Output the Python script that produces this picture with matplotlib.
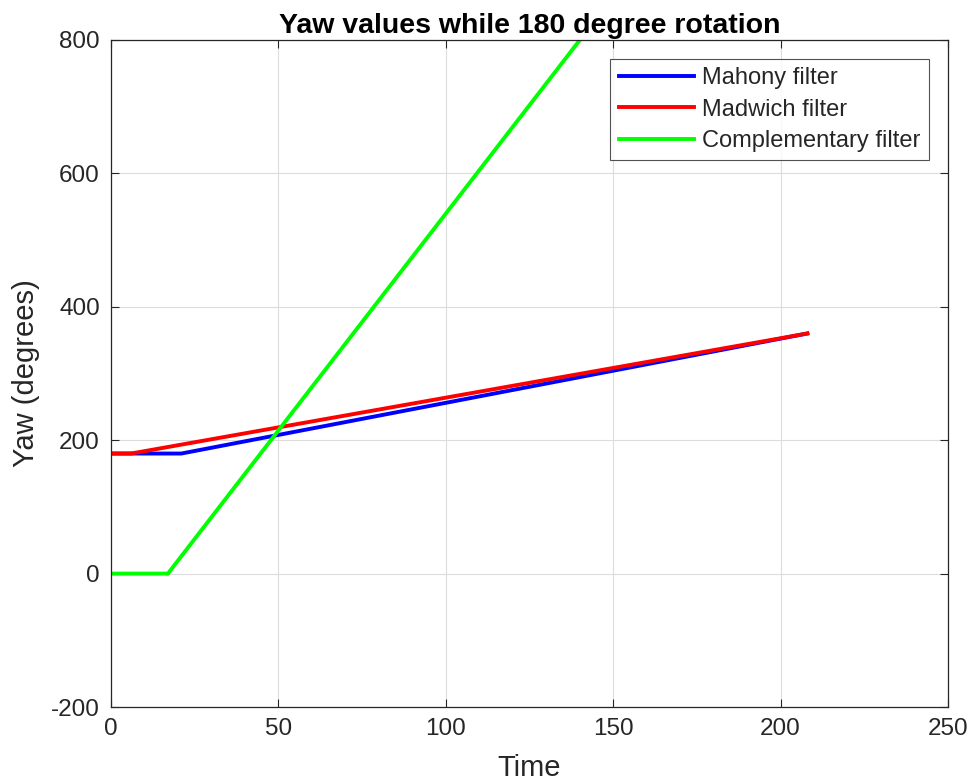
import matplotlib
matplotlib.use("Agg")
import matplotlib.pyplot as plt
from matplotlib import font_manager

names = {f.name for f in font_manager.fontManager.ttflist}
fam = [n for n in ["Liberation Sans Narrow", "Liberation Sans", "DejaVu Sans"] if n in names]
plt.rcParams['font.family'] = fam
plt.rcParams['axes.unicode_minus'] = False

# Data
mahony_t = [0, 21, 208]
mahony_y = [180, 180, 360]
madgwick_t = [0, 6, 208]
madgwick_y = [180, 180, 360]
comp_t = [0, 17, 208]
comp_y = [0, 0, 1242]

xticks = [0, 50, 100, 150, 200, 250]
yticks = [-200, 0, 200, 400, 600, 800]

fig = plt.figure(figsize=(9.79, 7.84), dpi=100)
ax = fig.add_axes([111/979, 1-707/784, (948-111)/979, (707-40)/784])

ax.plot(mahony_t, mahony_y, color=(0, 0, 1), lw=2.8, label='Mahony filter')
ax.plot(madgwick_t, madgwick_y, color=(1, 0, 0), lw=2.8, label='Madwich filter')
ax.plot(comp_t, comp_y, color=(0, 1, 0), lw=2.8, label='Complementary filter')

ax.set_xlim(0, 250)
ax.set_ylim(-200, 800)
ax.set_xticks(xticks)
ax.set_yticks(yticks)
ax.grid(True, color='#dcdcdc', lw=0.8)
ax.set_axisbelow(True)
tc = '#262626'
ax.tick_params(direction='in', length=6, width=0.8, colors=tc, labelsize=17.5,
               top=True, right=True, pad=8)
for s in ax.spines.values():
    s.set_color(tc)
    s.set_linewidth(0.9)

ax.set_xlabel('Time', fontsize=21, color=tc, labelpad=10)
ax.set_ylabel('Yaw (degrees)', fontsize=21, color=tc, labelpad=8)
ax.set_title('Yaw values while 180 degree rotation', fontsize=20.5, fontweight='bold', pad=5)

leg = ax.legend(loc='upper right', fontsize=17, frameon=True, fancybox=False,
                edgecolor=tc, borderpad=0.35, handlelength=3.2, handletextpad=0.35,
                labelspacing=0.4, borderaxespad=0.8)
leg.get_frame().set_linewidth(0.8)
for t in leg.get_texts():
    t.set_color(tc)

fig.savefig('out.png', dpi=100)
